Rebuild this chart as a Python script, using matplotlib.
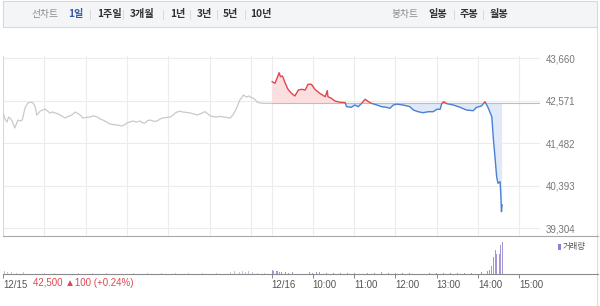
import numpy as np
import matplotlib.pyplot as plt
from matplotlib.patches import Rectangle

plt.rcParams['font.family'] = ['Liberation Sans', 'Noto Sans CJK KR', 'DejaVu Sans']

# price of previous day (12/15), minutes since 9:00
prev_t = [0, 3, 6, 8, 10, 13, 17, 20, 22, 25, 28, 32, 36, 40, 44, 47, 49, 52, 54, 58, 61, 65, 68, 72, 76,
          80, 83, 87, 90, 95, 100, 103, 105, 109, 112, 116, 121, 126, 131, 137, 141, 145, 150, 155, 160,
          166, 170, 173, 177, 180, 185, 189, 194, 199, 203, 206, 210, 214, 219, 224, 228, 232, 238, 243,
          247, 250, 253, 257, 261, 266, 272, 277, 282, 286, 290, 293, 296, 301, 306, 311, 316, 320, 325,
          330, 334, 337, 340, 344, 347, 349, 352, 354, 357, 359, 363, 366, 369, 373, 380, 390]
prev_p = [42254, 42100, 42024, 42150, 42126, 42060, 41871, 42000, 42075, 42050, 42075, 42382, 42510, 42530,
          42510, 42400, 42203, 42260, 42305, 42330, 42356, 42300, 42254, 42280, 42254,
          42230, 42203, 42160, 42126, 42170, 42203, 42250, 42280, 42240, 42203, 42126, 42140, 42152, 42180,
          42152, 42100, 42075, 42030, 41973, 41960, 41947, 41930, 41922, 41960, 41998, 42030, 42050, 42020,
          42050, 42000, 41998, 42060, 42075, 42040, 42050, 42100, 42126, 42140, 42152, 42203, 42250, 42280,
          42300, 42280, 42270, 42254, 42230, 42203, 42230, 42254, 42290, 42254, 42178, 42160, 42152, 42170,
          42152, 42140, 42126, 42203, 42300, 42408, 42586, 42650, 42714, 42680, 42663, 42690, 42663, 42638,
          42600, 42535, 42510, 42500, 42500]

# price of 12/16, minutes since 9:00
today_t = [1, 5, 8, 11, 13, 16, 20, 24, 29, 34, 39, 44, 49, 53, 58, 63, 70, 78, 81, 82, 87, 92, 99, 107,
           109, 116, 121, 126, 131, 136, 141, 145, 153, 160, 167, 172, 177, 182, 191, 201, 206, 213, 220,
           228, 235, 240, 245, 247, 250, 255, 264, 274, 283, 293, 298, 305, 310, 314, 320, 322, 325, 327,
           329, 332, 333, 334, 335]
today_p = [43054, 43013, 43141, 43284, 43182, 43200, 43013, 42860, 42758, 42689, 42842, 42860, 42842,
           42988, 42988, 42860, 42758, 42671, 42824, 42671, 42630, 42561, 42530, 42520,
           42415, 42400, 42459, 42415, 42502, 42605, 42543, 42502, 42459, 42415, 42400, 42374, 42459,
           42480, 42459, 42415, 42331, 42287, 42262, 42287, 42287, 42349, 42349, 42480, 42543, 42490,
           42459, 42400, 42331, 42313, 42400, 42433, 42543, 42415, 42160, 41648, 41053, 40626, 40457,
           40498, 40210, 39731, 39903]

base_price = 42500
y_ticks = [39304, 40393, 41482, 42571, 43660]

# volume (minutes since 9:00 of each day)
prev_vol_t = [2, 6, 12, 20, 30, 45, 60, 75, 90, 110, 130, 150, 170, 190, 210, 230, 250, 270, 290, 310,
              330, 336, 340, 344, 348, 352, 356, 362, 370, 380]
prev_vol = [6, 4, 5, 3, 4, 3, 3, 2, 3, 2, 3, 2, 2, 3, 2, 3, 2, 3, 2, 3, 4, 6, 7, 5, 8, 5, 6, 4, 3, 3]
today_vol_t = [1, 3, 5, 7, 9, 12, 15, 20, 25, 30, 40, 50, 55, 60, 65, 70, 80, 90, 100, 110, 120, 130,
               140, 150, 160, 170, 180, 190, 200, 210, 220, 230, 240, 250, 260, 270, 280, 290, 300,
               305, 310, 314, 317, 320, 322, 325, 327, 329, 331, 333, 336]
today_vol = [9, 8, 7, 6, 8, 5, 4, 4, 3, 4, 3, 4, 5, 3, 4, 4, 3, 3, 2, 3, 2, 3, 2, 3, 4, 3, 2, 3, 2, 3,
             4, 3, 2, 3, 3, 2, 3, 2, 3, 4, 5, 8, 10, 20, 44, 62, 53, 48, 52, 75, 84]

tabs = ['1일', '1주일', '3개월', '1년', '3년', '5년', '10년']
candle_tabs = ['일봉', '주봉', '월봉']
hour_labels = ['10:00', '11:00', '12:00', '13:00', '14:00', '15:00']

W, H = 600, 306
fig = plt.figure(figsize=(6, 3.06), dpi=100)

# background / frame in pixel coords
bg = fig.add_axes([0, 0, 1, 1], zorder=-1)
bg.set_xlim(0, W)
bg.set_ylim(H, 0)
bg.axis('off')
bg.add_patch(Rectangle((3, 0.5), 594, 26.5, facecolor='#f4f5f7', edgecolor='#d6d8dc', lw=0.8))
bg.plot([597, 597], [27, 306], color='#dcdcdc', lw=0.8)
bg.plot([3, 598], [236, 236], color='#a8a8a8', lw=0.8)
bg.plot([3, 598], [273.7, 273.7], color='#8a8a8a', lw=0.8)

kr = ['Noto Sans CJK KR', 'DejaVu Sans']
bg.text(32, 14.5, '선차트', fontsize=7, color='#8a8a8a', family=kr, va='center')
tab_x = [68, 97, 130, 170, 197, 223, 250]
sep_x = [90, 123, 163, 190, 217, 245]
for lab, x in zip(tabs, tab_x):
    bg.text(x, 14.5, lab, fontsize=7.3, fontweight='bold', family=kr, va='center',
            color='#3a5ba8' if lab == '1일' else '#333333')
for x in sep_x:
    bg.plot([x, x], [10, 19], color='#dadada', lw=0.7)
bg.text(392, 14.5, '봉차트', fontsize=7, color='#8a8a8a', family=kr, va='center')
for lab, x in zip(candle_tabs, [428, 460, 490]):
    bg.text(x, 14.5, lab, fontsize=7.3, fontweight='bold', family=kr, va='center', color='#333333')
for x in [454, 483]:
    bg.plot([x, x], [10, 19], color='#dadada', lw=0.7)

# main price axes
ylo, yhi = 39110, 43700
ppu = 42.6 / 1089
top_px = 58 - (yhi - 43660) * ppu
ax = fig.add_axes([3 / W, 1 - 236 / H, 537 / W, (236 - top_px) / H])
ax.set_facecolor('none')
ax.set_xlim(0, 780)
ax.set_ylim(ylo, yhi)
for s in ax.spines.values():
    s.set_visible(False)
ax.axvline(0, color='#d8d8d8', lw=0.8)
grid_t = [60, 120, 180, 240, 300, 360, 390, 450, 510, 570, 630, 690, 750]
for t in grid_t:
    ax.axvline(t, color='#ececec', lw=0.8, zorder=0)
for v in y_ticks:
    ax.axhline(v, color='#ececec', lw=0.8, zorder=0)
ax.set_xticks([])
ax.yaxis.tick_right()
ax.set_yticks(y_ticks)
ax.set_yticklabels([f'{v:,}' for v in y_ticks])
ax.tick_params(axis='y', length=0, pad=4, labelsize=7, labelcolor='#777777')

ax.plot(prev_t, prev_p, color='#c9c9c9', lw=0.9)
ax.plot([390, 780], [base_price, base_price], color='#bdbdbd', lw=0.8)

tt = 390 + np.array(today_t)
pp = np.array(today_p)
ax.fill_between(tt, pp, base_price, where=pp >= base_price, interpolate=True,
                color='#fbdfe0', lw=0)
ax.fill_between(tt, pp, base_price, where=pp <= base_price, interpolate=True,
                color='#dfe9f8', lw=0)
up = Rectangle((0, base_price), 780, yhi - base_price, transform=ax.transData)
dn = Rectangle((0, ylo), 780, base_price - ylo, transform=ax.transData)
l1, = ax.plot(tt, pp, color='#e0464e', lw=1.0)
l1.set_clip_path(up)
l2, = ax.plot(tt, pp, color='#4a80d2', lw=1.0)
l2.set_clip_path(dn)

# volume axes
vax = fig.add_axes([3 / W, 1 - 273.7 / H, 537 / W, 37.7 / H])
vax.set_facecolor('none')
vax.set_xlim(0, 780)
vax.set_ylim(0, 100)
for s in vax.spines.values():
    s.set_visible(False)
vax.bar(prev_vol_t, prev_vol, width=1.2, color='#c8c4d8', lw=0)
vax.bar(390 + np.array(today_vol_t), today_vol, width=1.2, color='#a596d8', lw=0)
vax.set_yticks([])
xt = [0, 390, 450, 510, 570, 630, 690, 750]
vax.set_xticks(xt)
vax.set_xticklabels(['12/15', '12/16'] + hour_labels)
for lab in vax.get_xticklabels():
    lab.set_horizontalalignment('left')
vax.tick_params(axis='x', length=3, width=0.7, color='#888888', pad=1.5, labelsize=7,
                labelcolor='#555555')

bg.text(33, 283, '42,500 ▲100 (+0.24%)', fontsize=7, color='#e0464e', va='center')
bg.add_patch(Rectangle((558, 244), 2.5, 6, color='#8f80d0', lw=0))
bg.text(562.5, 247, '거래량', fontsize=6, family=kr, color='#555555', va='center')

fig.savefig('out.png', dpi=100)
